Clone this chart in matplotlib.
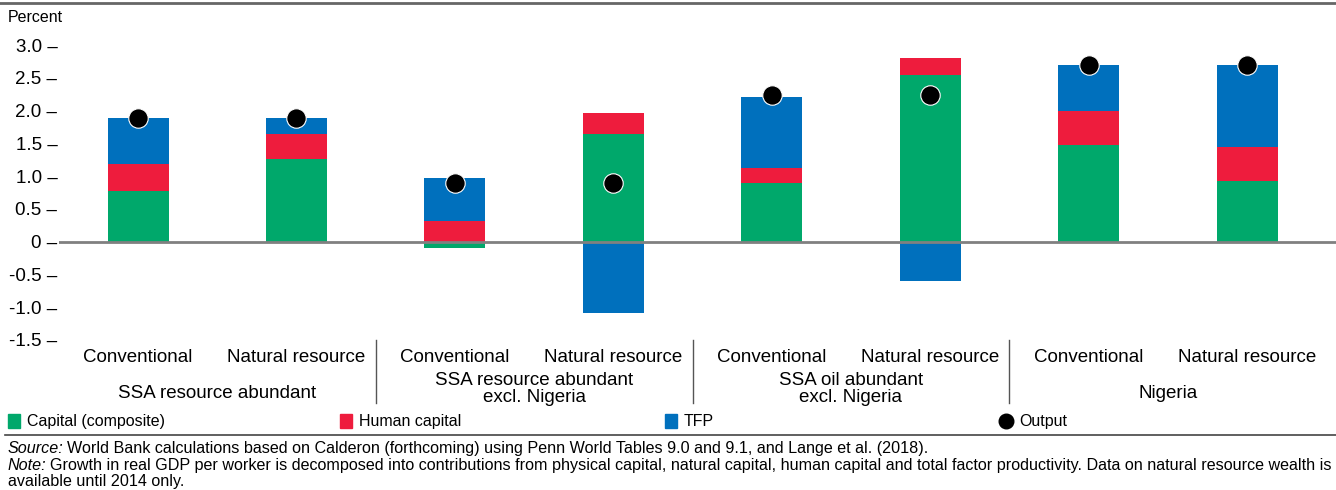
import numpy as np
import matplotlib
matplotlib.use('agg')
import matplotlib.pyplot as plt
from matplotlib.patches import Rectangle
from matplotlib.lines import Line2D
import matplotlib.transforms as mtransforms

plt.rcParams['font.family'] = ['Liberation Sans', 'DejaVu Sans']

# data
bar_labels = ['Conventional', 'Natural resource'] * 4
group_labels = ['SSA resource abundant', 'SSA resource abundant\nexcl. Nigeria',
                'SSA oil abundant\nexcl. Nigeria', 'Nigeria']
capital = [0.77, 1.26, -0.09, 1.65, 0.89, 2.55, 1.47, 0.93]
human = [0.42, 0.39, 0.31, 0.31, 0.24, 0.25, 0.52, 0.52]
tfp = [0.69, 0.23, 0.66, -1.09, 1.07, -0.60, 0.70, 1.24]
output = [1.88, 1.88, 0.89, 0.89, 2.24, 2.24, 2.69, 2.69]
yticks = [3.0, 2.5, 2.0, 1.5, 1.0, 0.5, 0, -0.5, -1.0, -1.5]

c_green = '#00A86B'
c_red = '#EE1C3D'
c_blue = '#0070BD'

W, H = 1336, 490
fig = plt.figure(figsize=(W / 100, H / 100), dpi=100)

def fx(px):
    return px / W

def fy(py):
    return 1 - py / H

x = np.arange(len(capital))
ax_left = 58.8
ax_right = W
spacing = 158.43
ax = fig.add_axes([fx(ax_left), fy(340), fx(ax_right - ax_left), fy(45) - fy(340)])
ax.set_xlim(-0.5, -0.5 + (ax_right - ax_left) / spacing)
ax.set_ylim(-1.5, 3.0)

# stack positives upward and negatives downward
pos_base = np.zeros(len(x))
neg_base = np.zeros(len(x))
for vals, col in [(capital, c_green), (human, c_red), (tfp, c_blue)]:
    vals = np.array(vals)
    base = np.where(vals >= 0, pos_base, neg_base)
    ax.bar(x, vals, bottom=base, width=0.385, color=col, linewidth=0, zorder=2)
    pos_base = pos_base + np.where(vals >= 0, vals, 0)
    neg_base = neg_base + np.where(vals < 0, vals, 0)

ax.axhline(0, color='#808080', lw=2, zorder=3)
ax.plot(x, output, 'o', color='black', markersize=14, markeredgecolor='white',
        markeredgewidth=0.8, zorder=4, clip_on=False)

for s in ax.spines.values():
    s.set_visible(False)
ax.set_xticks([])
ax.set_yticks(yticks)
ax.set_yticklabels([('0' if t == 0 else f'{t:.1f}') + ' \u2013' for t in yticks], fontsize=13.5)
ax.tick_params(axis='y', length=0, pad=1)

fig.text(fx(8), fy(17), 'Percent', fontsize=11.5, va='center', ha='left')

# category labels under the axis
tr = mtransforms.blended_transform_factory(ax.transData, fig.transFigure)
for i, lab in enumerate(bar_labels):
    fig.text(i, fy(357), lab, transform=tr, ha='center', va='center', fontsize=13.5)
for g, lab in enumerate(group_labels):
    py = 389 if '\n' in lab else 393
    fig.text(2 * g + 0.5, fy(py), lab, transform=tr, ha='center', va='center',
             fontsize=13.5, linespacing=0.95)
for g in range(3):
    fig.add_artist(Line2D([2 * g + 1.5, 2 * g + 1.5], [fy(340), fy(403)], transform=tr,
                          color='#555555', lw=1))

# top rule and legend rule
fig.add_artist(Line2D([0, 1], [fy(3), fy(3)], color='#666666', lw=2))
fig.add_artist(Line2D([fx(5), 1], [fy(435), fy(435)], color='#444444', lw=1.2))

# legend
leg_items = [('Capital (composite)', c_green, 8), ('Human capital', c_red, 340),
             ('TFP', c_blue, 665)]
for lab, col, px in leg_items:
    fig.add_artist(Rectangle((fx(px), fy(428)), fx(12), fy(414) - fy(428), color=col,
                             transform=fig.transFigure))
    fig.text(fx(px + 19), fy(421), lab, fontsize=11.5, va='center', ha='left')
fig.add_artist(Line2D([fx(1006)], [fy(421)], marker='o', color='black', markersize=10.5,
                      transform=fig.transFigure))
fig.text(fx(1019), fy(421), 'Output', fontsize=11.5, va='center', ha='left')

# source and note
fig.canvas.draw()
r = fig.canvas.get_renderer()
notes = [('Source:', 'World Bank calculations based on Calderon (forthcoming) using Penn World Tables 9.0 and 9.1, and Lange et al. (2018).', 448),
         ('Note:', 'Growth in real GDP per worker is decomposed into contributions from physical capital, natural capital, human capital and total factor productivity. Data on natural resource wealth is', 465)]
for it, rest, py in notes:
    t = fig.text(fx(8), fy(py), it, fontsize=11.6, style='italic', va='center', ha='left')
    bb = t.get_window_extent(renderer=r)
    fig.text((bb.x1 + 3) / W, fy(py), rest, fontsize=11.6, va='center', ha='left')
fig.text(fx(8), fy(481), 'available until 2014 only.', fontsize=11.6, va='center', ha='left')

fig.savefig('out.png', dpi=100)
